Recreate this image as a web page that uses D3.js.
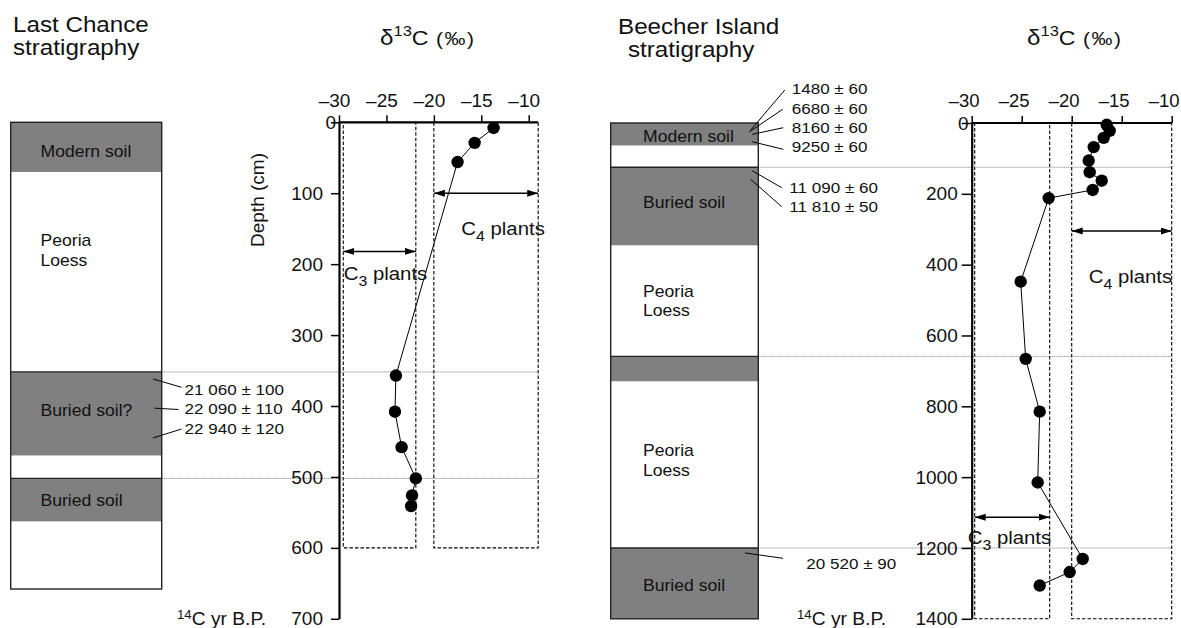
<!DOCTYPE html>
<html>
<head>
<meta charset="utf-8">
<script src="https://cdn.jsdelivr.net/npm/d3@7"></script>
<style>
  body { margin: 0; background: #fff; }
  svg text { font-family: "Liberation Sans", Arial, sans-serif; fill: #111; }
</style>
</head>
<body>
<svg width="1181" height="628"></svg>
<script>
// ---- Last Chance data
let lcDepth = [8, 29, 56, 357, 408, 458, 502, 526, 541];
let lcD13C = [-13.7, -15.7, -17.5, -24.0, -24.1, -23.4, -21.9, -22.3, -22.4];
let lcLayerTop = [0, 70, 353, 470, 502, 563];
let lcLayerBottom = [70, 353, 470, 502, 563, 658];
let lcLayerSoil = [true, false, true, false, true, false];
let lcLayerLabel = ["Modern soil", "Peoria\nLoess", "Buried soil?", "", "Buried soil", ""];
let lcBoundaries = [352, 502];
let lcDates = ["21 060 \u00b1 100", "22 090 \u00b1 110", "22 940 \u00b1 120"];
let lcDateDepth = [362, 403, 445];
let lcYTicks = [0, 100, 200, 300, 400, 500, 600, 700];

// ---- Beecher Island data
let biDepth = [5, 22, 42, 68, 106, 139, 163, 189, 212, 448, 666, 815, 1015, 1231, 1268, 1306];
let biD13C = [-16.5, -16.2, -16.8, -17.8, -18.3, -18.2, -17.0, -17.9, -22.3, -25.1, -24.6, -23.2, -23.4, -18.9, -20.2, -23.2];
let biLayerTop = [0, 64, 125, 346, 659, 730, 1200];
let biLayerBottom = [64, 125, 346, 659, 730, 1200, 1400];
let biLayerSoil = [true, false, true, false, true, false, true];
let biLayerLabel = ["Modern soil", "", "Buried soil", "Peoria\nLoess", "", "Peoria\nLoess", "Buried soil"];
let biBoundaries = [125, 659, 1200];
let biDates = ["1480 \u00b1 60", "6680 \u00b1 60", "8160 \u00b1 60", "9250 \u00b1 60", "11 090 \u00b1 60", "11 810 \u00b1 50", "20 520 \u00b1 90"];
let biDateDepth = [20, 25, 32, 53, 135, 159, 1214];
let biYTicks = [0, 200, 400, 600, 800, 1000, 1200, 1400];

let xTicks = [-30, -25, -20, -15, -10];

let svg = d3.select("svg");
const SX = 1.1; // the source figure is a bit wider than tall

svg.append("defs").append("marker")
    .attr("id", "head")
    .attr("markerUnits", "userSpaceOnUse")
    .attr("markerWidth", 12).attr("markerHeight", 8)
    .attr("refX", 11).attr("refY", 3.5)
    .attr("orient", "auto-start-reverse")
    .append("path")
    .attr("d", "M0,0 L11,3.5 L0,7 Z")
    .attr("fill", "#000");

function stext(x, y, size, anchor) {
    return svg.append("text")
        .attr("transform", "translate(" + x + "," + y + ") scale(" + SX + ",1)")
        .attr("font-size", size)
        .attr("text-anchor", anchor || "start");
}

function subLabel(x, y, size, sub) {
    let t = stext(x, y, size);
    t.append("tspan").text("C");
    t.append("tspan").attr("font-size", size * 0.78).attr("dy", size * 0.32).text(sub);
    t.append("tspan").attr("dy", -size * 0.32).text(" plants");
}

function deltaTitle(x, y) {
    let t = stext(x, y, 21);
    t.append("tspan").attr("font-size", 22).text("\u03b4");
    t.append("tspan").attr("font-size", 15).attr("dy", -9).text("13");
    t.append("tspan").attr("font-size", 21).attr("dy", 9).text("C");
    t.append("tspan").attr("font-size", 19).attr("letter-spacing", 1.5).text(" (\u2030)");
}

function panel(p) {
    let x = p.x, y = p.y;
    let g = svg.append("g");

    // dashed C3 / C4 boxes
    [p.c3, p.c4].forEach(function (r) {
        g.append("rect")
            .attr("x", x(r[0])).attr("y", y(0))
            .attr("width", x(r[1]) - x(r[0]))
            .attr("height", y(p.boxDepth) - y(0))
            .attr("fill", "none").attr("stroke", "#000")
            .attr("stroke-width", 1.1).attr("stroke-dasharray", "3.5,2");
    });

    // dotted correlation lines
    p.bounds.forEach(function (d) {
        g.append("line")
            .attr("x1", p.colX[1]).attr("x2", x(p.c4[1]))
            .attr("y1", y(d)).attr("y2", y(d))
            .attr("stroke", "#777").attr("stroke-width", 1)
            .attr("stroke-dasharray", "1,1");
    });

    // stratigraphy column
    let col = svg.append("g");
    p.tops.forEach(function (t, i) {
        col.append("rect")
            .attr("x", p.colX[0]).attr("y", y(t))
            .attr("width", p.colX[1] - p.colX[0])
            .attr("height", y(p.bottoms[i]) - y(t))
            .attr("fill", p.soil[i] ? "#808080" : "#fff");
    });
    col.append("rect")
        .attr("x", p.colX[0]).attr("y", y(0))
        .attr("width", p.colX[1] - p.colX[0])
        .attr("height", y(p.bottoms[p.bottoms.length - 1]) - y(0))
        .attr("fill", "none").attr("stroke", "#222").attr("stroke-width", 1.4);
    p.bounds.forEach(function (d) {
        col.append("line")
            .attr("x1", p.colX[0]).attr("x2", p.colX[1])
            .attr("y1", y(d)).attr("y2", y(d))
            .attr("stroke", "#222").attr("stroke-width", 1.4);
    });
    p.labels.forEach(function (s, i) {
        if (!s) return;
        let t = stext(p.labelX, y(p.labelAt[i]), 16);
        s.split("\n").forEach(function (line, k) {
            t.append("tspan").attr("x", 0).attr("dy", k ? 19.5 : 0).text(line);
        });
    });

    // dates with leaders
    p.dates.forEach(function (s, i) {
        let by = p.dateY[i];
        svg.append("line")
            .attr("x1", p.leadX[i]).attr("y1", y(p.dateDepth[i]))
            .attr("x2", p.endX[i]).attr("y2", by - p.endDy[i])
            .attr("stroke", "#000").attr("stroke-width", 1);
        stext(p.dateX[i], by, 15.5).text(s);
    });

    // axes
    let fmt = function (d) { return (d < 0 ? "\u2013" : "") + Math.abs(d); };
    let xa = g.append("g")
        .attr("transform", "translate(0," + y(0) + ")")
        .call(d3.axisTop(x).tickValues(xTicks).tickSize(7).tickPadding(p.xPad).tickFormat(fmt));
    xa.select(".domain").remove();
    xa.selectAll("line").attr("stroke-width", 1.5);
    xa.selectAll("text").attr("font-size", p.xFont).attr("dx", p.xShift)
        .attr("font-family", "Liberation Sans, Arial, sans-serif");
    g.append("line")
        .attr("x1", x(-30)).attr("x2", x(p.c4[1]))
        .attr("y1", y(0)).attr("y2", y(0))
        .attr("stroke", "#000").attr("stroke-width", 2.2);

    let ya = g.append("g")
        .attr("transform", "translate(" + x(-30) + ",0)")
        .call(d3.axisLeft(y).tickValues(p.yTicks).tickSize(p.ySize).tickPadding(p.yPad)
            .tickSizeOuter(0).tickFormat(d3.format("d")));
    ya.select(".domain").attr("stroke-width", 2.2);
    ya.selectAll("line").attr("stroke-width", 1.5);
    ya.selectAll("text").attr("font-size", 19)
        .attr("font-family", "Liberation Sans, Arial, sans-serif");
    ya.selectAll(".tick").filter(function (d) { return d === 0; })
        .select("text").attr("x", -3);

    // C3 / C4 range arrows
    [[p.c3, p.c3Arrow], [p.c4, p.c4Arrow]].forEach(function (a) {
        g.append("line")
            .attr("x1", x(a[0][0])).attr("x2", x(a[0][1]))
            .attr("y1", y(a[1])).attr("y2", y(a[1]))
            .attr("stroke", "#000").attr("stroke-width", 1.5)
            .attr("marker-start", "url(#head)").attr("marker-end", "url(#head)");
    });
    subLabel(x(p.c4Text[0]), y(p.c4Text[1]), 18.5, "4");
    subLabel(x(p.c3Text[0]), y(p.c3Text[1]), 18.5, "3");

    // profile
    let pts = d3.zip(p.depth, p.d13c);
    g.append("path").datum(pts)
        .attr("fill", "none").attr("stroke", "#000").attr("stroke-width", 1)
        .attr("d", d3.line().x(function (d) { return x(d[1]); }).y(function (d) { return y(d[0]); }));
    g.selectAll(".dot").data(pts).enter().append("circle")
        .attr("cx", function (d) { return x(d[1]); })
        .attr("cy", function (d) { return y(d[0]); })
        .attr("r", 6.2).attr("fill", "#000");
}

// Last Chance
panel({
    x: d3.scaleLinear().domain([-30, -10]).range([339, 528.7]),
    y: d3.scaleLinear().domain([0, 700]).range([122.3, 618.8]),
    yTicks: lcYTicks, ySize: 8, yPad: 8, xPad: 8, xFont: 19, xShift: -5,
    c3: [-29.55, -21.9], c4: [-20, -9], boxDepth: 600,
    c3Arrow: 182, c4Arrow: 100,
    c3Text: [-29.5, 222], c4Text: [-17.1, 159],
    depth: lcDepth, d13c: lcD13C,
    tops: lcLayerTop, bottoms: lcLayerBottom, soil: lcLayerSoil,
    labels: lcLayerLabel, labelAt: [48.5, 175, 414.5, 0, 541, 0],
    labelX: 40.5, colX: [10.7, 161.7], bounds: lcBoundaries,
    dates: lcDates, dateDepth: lcDateDepth,
    dateY: [395, 414, 434], dateX: [184.6, 184.6, 184.6],
    leadX: [153.2, 154.3, 153.2], endX: [181.5, 178.5, 181.5], endDy: [7.7, 4.5, 5]
});

// Beecher Island
panel({
    x: d3.scaleLinear().domain([-30, -10]).range([971.7, 1171.7]),
    y: d3.scaleLinear().domain([0, 1400]).range([123, 618.8]),
    yTicks: biYTicks, ySize: 10, yPad: 4, xPad: 9, xFont: 18.5, xShift: -8,
    c3: [-29.7, -22.2], c4: [-20, -10], boxDepth: 1400,
    c3Arrow: 1113, c4Arrow: 305,
    c3Text: [-30.4, 1190], c4Text: [-18.3, 451],
    depth: biDepth, d13c: biD13C,
    tops: biLayerTop, bottoms: biLayerBottom, soil: biLayerSoil,
    labels: biLayerLabel, labelAt: [52.6, 0, 240.6, 490, 0, 941, 1322],
    labelX: 643, colX: [610.7, 758.3], bounds: biBoundaries,
    dates: biDates, dateDepth: biDateDepth,
    dateY: [94.3, 114, 132.7, 151.7, 193.3, 211.7, 569.3],
    dateX: [791.7, 791.7, 791.7, 791.7, 789.3, 789.3, 806.3],
    leadX: [750.7, 749.3, 752.3, 752.3, 752.3, 750.7, 745],
    endX: [784.8, 782.7, 783.3, 783.3, 781.7, 781.7, 783],
    endDy: [4.3, 4.7, 5, 2.4, 5.6, 5, 11]
});

// titles and captions
stext(13, 32.3, 22).text("Last Chance");
stext(13, 55, 22).text("stratigraphy");
stext(618, 34, 22).text("Beecher Island");
stext(628, 56.7, 22).text("stratigraphy");
deltaTitle(380, 45);
deltaTitle(1027, 45);

svg.append("text")
    .attr("transform", "translate(264,200) rotate(-90)")
    .attr("text-anchor", "middle").attr("font-size", 19)
    .text("Depth (cm)");

[[177, 625], [797, 625]].forEach(function (pos) {
    let t = stext(pos[0], pos[1], 17.5);
    t.append("tspan").attr("font-size", 12).attr("dy", -6).text("14");
    t.append("tspan").attr("dy", 6).text("C yr B.P.");
});
</script>
</body>
</html>
